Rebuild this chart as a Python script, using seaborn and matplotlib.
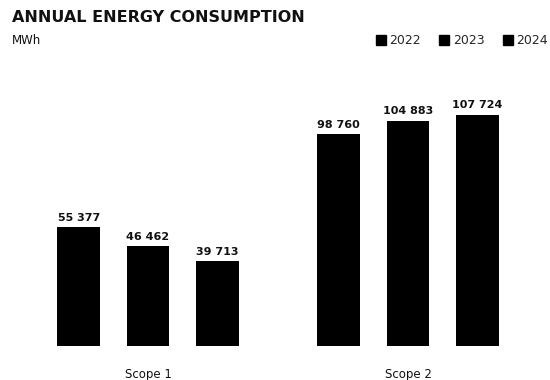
import matplotlib
matplotlib.use("Agg")
import matplotlib.pyplot as plt
from matplotlib.lines import Line2D
import seaborn as sns
import pandas as pd

categories = ["Scope 1", "Scope 2"]
years = ["2022", "2023", "2024"]
values_2022 = [55377, 98760]
values_2023 = [46462, 104883]
values_2024 = [39713, 107724]

rows = []
for yr, vals in zip(years, [values_2022, values_2023, values_2024]):
    for c, v in zip(categories, vals):
        rows.append({"scope": c, "year": yr, "value": v})
df = pd.DataFrame(rows)

sns.set_theme(style="white")
plt.rcParams['font.family'] = ['DejaVu Sans']

fig = plt.figure(figsize=(5.5, 3.8), dpi=100)
ax = fig.add_axes([18/550, 1-346/380, 520/550, 266/380])

sns.barplot(data=df, x="scope", y="value", hue="year", hue_order=years,
            palette=["#000000"]*3, width=0.8, gap=0.385, ax=ax, saturation=1,
            legend=False, linewidth=0)

ax.set_xlim(-0.5, 1.5)
ax.set_ylim(0, 123800)
for c in ax.containers:
    labels = [f"{int(round(v)):,}".replace(",", " ") for v in c.datavalues]
    ax.bar_label(c, labels=labels, padding=3, fontsize=8, fontweight="bold", color="#111111")

sns.despine(ax=ax, left=True, bottom=True)
ax.set_yticks([])
ax.set_xlabel("")
ax.set_ylabel("")
ax.tick_params(axis="x", length=0, pad=16, labelsize=8.5, colors="#111111")

handles = [Line2D([], [], marker="s", markersize=6.5, linestyle="none", color="#000000")
           for _ in years]
fig.legend(handles, years, loc="center right", bbox_to_anchor=(548/550, 1-41/380),
           ncol=3, frameon=False, handlelength=0.7, handletextpad=0.35,
           columnspacing=1.5, fontsize=9, borderaxespad=0, borderpad=0)

fig.text(12/550, 1-18/380, "ANNUAL ENERGY CONSUMPTION", fontsize=11.5,
         fontweight="bold", va="center", ha="left", color="#111111")
fig.text(12/550, 1-41/380, "MWh", fontsize=8.5, va="center", ha="left", color="#111111")

fig.savefig("out.png", dpi=100)
